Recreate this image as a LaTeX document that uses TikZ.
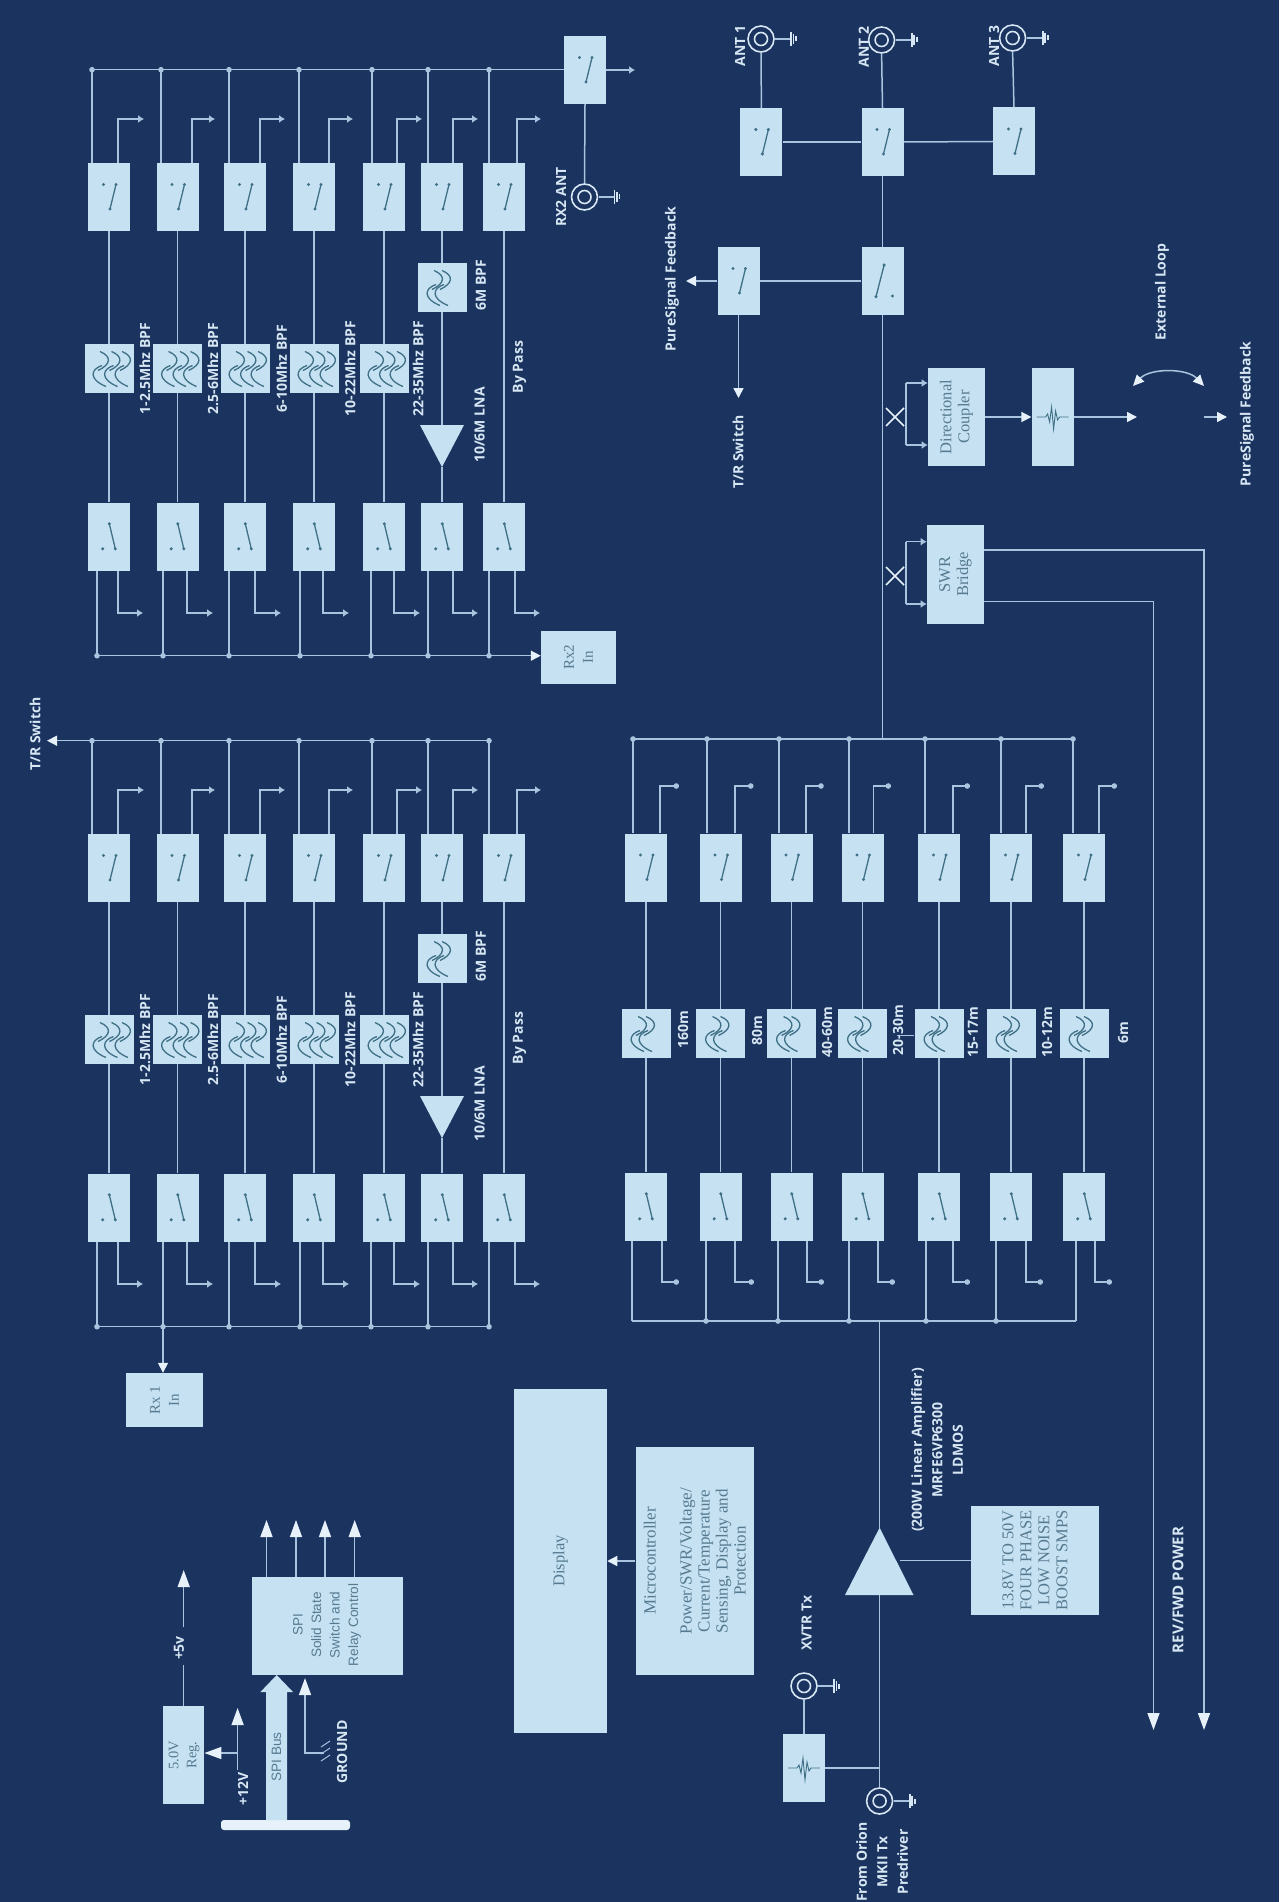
\documentclass[tikz,border=0pt]{standalone}
\usepackage{fontspec}
\setmainfont{Liberation Serif}
\newfontfamily\lblfont{Open Sans}
\newfontfamily\arialfont{Liberation Sans}
\usetikzlibrary{arrows.meta,calc}
\definecolor{bgc}{HTML}{1A335F}
\definecolor{boxc}{HTML}{C6E1F2}
\definecolor{boxtxt}{HTML}{567A90}
\definecolor{wirec}{HTML}{A9C4DE}
\definecolor{lblc}{HTML}{D6E6F3}
\definecolor{arrc}{HTML}{E6F1FA}
\definecolor{symc}{HTML}{3F7086}
\tikzset{
  x=1pt,y=-1pt,
  wire/.style={draw=wirec,line width=1.5pt},
  bigtip/.style={-{Triangle[length=17pt,width=12pt,color=arrc]}},
  medtip/.style={-{Triangle[length=10pt,width=10pt,color=arrc]}},
  smalltip/.style={-{Latex[length=6pt,width=8pt,color=wirec]}},
  dottip/.style={-{Circle[length=5.5pt,color=wirec]}},
  junc/.style={fill=wirec},
  solidbox/.style={fill=boxc,draw=none,inner sep=0pt,rectangle},
  swbox/.style={solidbox,minimum width=42pt,minimum height=68pt},
  filtbox/.style={solidbox,minimum width=49pt,minimum height=49pt},
  symline/.style={draw=symc,line width=1.3pt},
  lbl/.style={rotate=90,text=lblc,inner sep=0pt,align=center,font=\lblfont\bfseries\fontsize{14}{20.5}\selectfont},
  btxt/.style={rotate=90,text=boxtxt,inner sep=0pt,align=center,font=\fontsize{16.5}{18}\selectfont},
  atxt/.style={rotate=90,text=boxtxt,inner sep=0pt,align=center,font=\arialfont\fontsize{13.6}{18.5}\selectfont},
  coaxo/.style={circle,draw=lblc,line width=1.6pt,minimum size=26pt,inner sep=0pt},
  coaxi/.style={circle,draw=lblc,line width=1.6pt,minimum size=13pt,inner sep=0pt},
}
\newcommand\swU[3]{\node[swbox] (#1) at (#2,#3) {};
  \begin{scope}[shift={(#2,#3)}]
    \fill[symc] (-5.5,-12.5) circle (1.7pt) (7,-12.5) circle (1.7pt) (1,12) circle (1.7pt);
    \draw[symline] (7,-12.5) -- (1,12);
  \end{scope}}
\newcommand\swD[3]{\node[swbox] (#1) at (#2,#3) {};
  \begin{scope}[shift={(#2,#3)}]
    \fill[symc] (-6.3,12.3) circle (1.7pt) (6.3,12.3) circle (1.7pt) (0.3,-12.7) circle (1.7pt);
    \draw[symline] (0.3,-12.7) -- (6.3,12.3);
  \end{scope}}
\newcommand\wavy[1]{\draw[symline] ({#1},-17) .. controls ({#1+12},-12) and ({#1+11},-4) .. ({#1-2},2)
   ({#1+2},-3) .. controls ({#1-10},1) and ({#1-11},11) .. ({#1+6},18);}
\newcommand\filtT[3]{\node[filtbox] (#1) at (#2,#3) {};
  \begin{scope}[shift={(#2,#3)}]\wavy{-9}\wavy{2.5}\wavy{13}\end{scope}}
\newcommand\filtD[3]{\node[filtbox] (#1) at (#2,#3) {};
  \begin{scope}[shift={(#2,#3)}]\wavy{-8}\wavy{0}\end{scope}}
\newcommand\attsym[2]{\begin{scope}[shift={(#1,#2)}]
  \draw[symline,line width=0.9pt] (-16,0) -- (-7,0) -- (-5,-3) -- (-3,5) -- (-1,-10) -- (1,12) -- (3,-6) -- (5,3) -- (7,0) -- (16,0);
  \end{scope}}
\newcommand\coax[3]{\node[coaxo] (#1) at (#2,#3) {};
  \node[coaxi] (#1i) at (#2,#3) {};
  \begin{scope}[shift={(#2,#3)}]
    \draw[wire,line width=1.8pt] (14,0) -- (30,0);
    \draw[draw=lblc,line width=1.8pt] (30,-7) -- (30,7) (32.5,-5) -- (32.5,5) (35,-2.5) -- (35,2.5);
  \end{scope}}
\newcommand\rxrow[3]{%
\begin{scope}[shift={(0,#2)}]
\foreach \i/\c/\a/\b/\e/\p/\q/\f in {1/109/92/118/144/97/118/143,2/177.5/161/192/215/163/187/213,3/245/229/260/285/229/255/281,4/314/299/329/353/300/323/349,5/384/372/397/422/371/394/420,6/442/428/453/478/428/453/478,7/504/489/517/541/489/515/540}{
  \swU{#1U\i}{\c}{197}
  \swD{#1D\i}{\c}{536.5}
  \coordinate (#1T\i) at (\a,69.7);
  \coordinate (#1B\i) at (\p,655.7);
  \fill[junc] (#1T\i) circle (2.8pt) (#1B\i) circle (2.8pt);
  \draw[wire] (#1T\i) -- (#1T\i |- #1U\i.north);
  \draw[wire] (#1B\i) -- (#1B\i |- #1D\i.south);
  \coordinate (#1O\i) at (\b,119);
  \coordinate (#1E\i) at (\e,119);
  \draw[wire,smalltip] (#1O\i |- #1U\i.north) -- (#1O\i) -- (#1E\i);
  \coordinate (#1P\i) at (\q,613);
  \coordinate (#1Q\i) at (\f,613);
  \draw[wire,smalltip] (#1P\i |- #1D\i.south) -- (#1P\i) -- (#1Q\i);
}
\draw[wire] (#1T1) -- (#1T7);
\draw[wire] (#1B1) -- (#1B7);
\foreach \i/\c/\lx/\t in {1/109/145/1-2.5Mhz BPF,2/177.5/213/2.5-6Mhz BPF,3/245/281.6/6-10Mhz BPF,4/314/350/10-22Mhz BPF,5/384/418/22-35Mhz BPF}{
  \filtT{#1F\i}{\c}{368.5}
  \draw[wire] (#1U\i.south) -- (#1F\i.north);
  \draw[wire] (#1F\i.south) -- (#1D\i.north);
  \node[lbl] (#1L\i) at (\lx,368.5) {\t};
}
\filtD{#1F6}{442}{287.5}
\coordinate (#1TriA) at (420,425);
\coordinate (#1TriB) at (464,425);
\coordinate (#1TriC) at (442,467);
\coordinate (#1TriM) at (442,425);
\fill[boxc] (#1TriA) -- (#1TriB) -- (#1TriC) -- cycle;
\draw[wire] (#1U6.south) -- (#1F6.north);
\draw[wire] (#1F6.south) -- (#1TriM);
\draw[wire] (#1TriC) -- (#1D6.north);
\draw[wire] (#1U7.south) -- (#1D7.north);
\node[lbl] (#1L6) at (481,285) {6M BPF};
\node[lbl] (#1LNA) at (479.6,#3) {10/6M LNA};
\node[lbl] (#1BP) at (519.6,367) {By Pass};
\end{scope}}
\begin{document}
\begin{tikzpicture}
\useasboundingbox (0,0) rectangle (1279,1902);
\fill[bgc] (0,0) rectangle (1279,1902);

% --- RX2 and RX1 filter banks
\rxrow{ra}{0}{425}
\rxrow{rb}{671}{433}

% RX2 input switch and antenna
\swU{rxTop}{585}{70}
\draw[wire] (raT7) -- (rxTop.west |- raT7);
\coordinate (rxOut) at (635,70);
\draw[wire,smalltip] (rxTop.east) -- (rxOut);
\coax{rxAnt}{584.5}{197}
\draw[wire] (rxTop.south) -- (rxAnt.north);
\node[lbl] (rxAntL) at (561,197) {RX2 ANT};
% RX2 In
\node[solidbox,minimum width=75pt,minimum height=53pt] (rxIn2) at (578.5,657) {};
\node[btxt,font=\fontsize{15}{19}\selectfont] (rxIn2T) at (rxIn2) {Rx2\\In};
\draw[wire,medtip] (raB7) -- (rxIn2.west |- raB7);
% T/R switch on RX1 bus
\coordinate (trTip) at (47,740.7);
\draw[wire,medtip] (rbT1) -- (trTip);
\node[lbl] (trL) at (35,734) {T/R Switch};
% RX1 In
\node[solidbox,minimum width=77pt,minimum height=54pt] (rxIn1) at (164.5,1400) {};
\node[btxt,font=\fontsize{15}{19}\selectfont] (rxIn1T) at (rxIn1) {Rx 1\\In};
\draw[wire,medtip] (rbB2) -- (rbB2 |- rxIn1.north);

% --- PA low-pass bank
\foreach \i/\c/\a/\b/\e/\p/\q/\f/\lx/\ly/\t in {1/646/633/660/679/632/662/679/683/1030/160m,2/720.5/707/735/753.5/706/735/754/757/1031/80m,3/791.5/779/806/823.7/778/807/824/827/1032/40-60m,4/862.5/849/873.5/891/849/878/895/898/1030/20-30m,5/939/925/953/970/926/953/970/973/1032/15-17m,6/1011/1001/1026/1044/996/1026/1043/1047/1032/10-12m,7/1084/1073/1099/1117/1076/1095/1112/1123/1033/6m}{
  \swU{pU\i}{\c}{867.5}
  \swD{pD\i}{\c}{1206.5}
  \filtD{pF\i}{\c}{1033.5}
  \draw[wire] (pU\i.south) -- (pF\i.north);
  \draw[wire] (pF\i.south) -- (pD\i.north);
  \coordinate (pT\i) at (\a,739);
  \coordinate (pB\i) at (\p,1321);
  \fill[junc] (pT\i) circle (2.8pt);
  \draw[wire] (pT\i) -- (pT\i |- pU\i.north);
  \draw[wire] (pB\i) -- (pB\i |- pD\i.south);
  \coordinate (pO\i) at (\b,786);
  \coordinate (pE\i) at (\e,786);
  \draw[wire,dottip] (pO\i |- pU\i.north) -- (pO\i) -- (pE\i);
  \coordinate (pP\i) at (\q,1282);
  \coordinate (pQ\i) at (\f,1282);
  \draw[wire,dottip] (pP\i |- pD\i.south) -- (pP\i) -- (pQ\i);
  \node[lbl] (pL\i) at (\lx,\ly) {\t};
}
\draw[wire] (pT1) -- (pT7);
\draw[wire] (pB1) -- (pB7);
\foreach \i in {2,3,4,5,6}{\fill[junc] (pB\i) circle (2.8pt);}
\coordinate (stub) at (897,1035);
\draw[wire,line width=1pt] (stub) -- (pF5.west |- stub);

% --- Amplifier
\coordinate (ampApex) at (879.6,1527.7);
\coordinate (ampL) at (845,1595);
\coordinate (ampR) at (913.5,1595);
\coordinate (ampB) at (879.6,1595);
\coordinate (ampIn) at (879.6,1321);
\fill[boxc] (ampApex) -- (ampL) -- (ampR) -- cycle;
\draw[wire] (ampIn) -- (ampApex);
\node[lbl] (ampLab) at (937,1450) {(200W Linear Amplifier)\\MRFE6VP6300\\LDMOS};
\node[solidbox,minimum width=127.4pt,minimum height=109.3pt] (smps) at (1035,1560.4) {};
\node[btxt] (smpsT) at (smps) {13.8V TO 50V\\FOUR PHASE\\LOW NOISE\\BOOST SMPS};
\coordinate (ampS) at (900,1560.7);
\draw[wire] (ampS) -- (smps.west |- ampS);
\coax{orion}{879.6}{1801}
\draw[wire] (ampB) -- (orion.north);
\node[lbl] (orionL) at (882,1862) {From Orion\\MKII Tx\\Predriver};
\node[swbox] (xvAtt) at (804,1768) {};
\attsym{804}{1768}
\coordinate (xvTap) at (879.6,1768);
\draw[wire] (xvAtt.east) -- (xvTap);
\coax{xvtr}{804}{1686}
\draw[wire] (xvAtt.north) -- (xvtr.south);
\node[lbl] (xvL) at (806.5,1623) {XVTR Tx};

% --- Antenna switching
\swU{ant1S}{761.4}{142}
\swU{ant2S}{882.5}{142}
\swU{ant3S}{1014}{141.5}
\coax{ant1}{761}{39}
\coax{ant2}{881.6}{40}
\coax{ant3}{1012.6}{38}
\draw[wire] (ant1S.north) -- (ant1.south);
\draw[wire] (ant2S.north) -- (ant2.south);
\draw[wire] (ant3S.north) -- (ant3.south);
\draw[wire] (ant1S.east) -- (ant2S.west);
\draw[wire] (ant2S.east) -- (ant3S.west);
\node[lbl] (ant1L) at (740,46) {ANT 1};
\node[lbl] (ant2L) at (863.7,47) {ANT 2};
\node[lbl] (ant3L) at (994,46) {ANT 3};

\node[swbox] (mainS) at (882.5,281) {};
\begin{scope}[shift={(882.5,281)}]
  \fill[symc] (1.6,-16) circle (1.7pt) (-6.5,15.7) circle (1.7pt) (10,15) circle (1.7pt);
  \draw[symline] (1.6,-16) -- (-6.5,15.7);
\end{scope}
\swU{psS}{738.5}{281}
\draw[wire] (ant2S.south) -- (mainS.north);
\draw[wire] (psS.east) -- (mainS.west);
\coordinate (psTip) at (686,281);
\draw[wire,medtip] (psS.west) -- (psTip);
\coordinate (trTip2) at (738.5,398);
\draw[wire,medtip] (psS.south) -- (trTip2);
\node[lbl] (psL) at (672,279) {PureSignal Feedback};
\node[lbl] (trL2) at (738,452) {T/R Switch};
\coordinate (mainBus) at (882.5,739);
\draw[wire] (mainS.south) -- (mainBus);

% --- Directional coupler
\node[solidbox,minimum width=57pt,minimum height=98pt] (dc) at (956.4,417) {};
\node[btxt] (dcT) at (dc) {Directional\\Coupler};
\node[solidbox,minimum width=42pt,minimum height=98pt] (att) at (1052.6,417) {};
\attsym{1052.6}{417}
\draw[wire,medtip] (dc.east) -- (att.west);
\coordinate (attTip) at (1137,417);
\draw[wire,medtip] (att.east) -- (attTip);
\coordinate (fbA) at (1204,417);
\coordinate (fbB) at (1227,417);
\draw[wire,medtip] (fbA) -- (fbB);
\coordinate (lpA) at (1133,386);
\coordinate (lpB) at (1204,386);
\draw[wire,{Triangle[length=11pt,width=10pt,color=arrc]}-{Triangle[length=11pt,width=10pt,color=arrc]}] (lpA) .. controls (1150,368) and (1187,368) .. (lpB);
\node[lbl] (extL) at (1162,292) {External Loop};
\node[lbl] (psL2) at (1247,414) {PureSignal Feedback};
\coordinate (dcA) at (906,383);
\coordinate (dcB) at (906,445);
\draw[wire] (dcA) -- (dcB);
\draw[wire,smalltip] (dcA) -- (dcA -| dc.west);
\draw[wire,smalltip] (dcB) -- (dcB -| dc.west);
\draw[draw=arrc,line width=1.7pt] (886,408) -- (904,426) (886,426) -- (904,408);

% --- SWR bridge
\node[solidbox,minimum width=57pt,minimum height=99pt] (swr) at (955.4,574.5) {};
\node[btxt] (swrT) at (swr) {SWR\\Bridge};
\coordinate (swA) at (906,541.7);
\coordinate (swB) at (906,604);
\draw[wire] (swA) -- (swB);
\draw[wire,smalltip] (swA) -- (swA -| swr.west);
\draw[wire,smalltip] (swB) -- (swB -| swr.west);
\draw[draw=arrc,line width=1.7pt] (886,567) -- (904,585) (886,585) -- (904,567);
\coordinate (rvC) at (1204,550);
\coordinate (rvT) at (1204,1730);
\coordinate (fwC) at (1153.5,601.7);
\coordinate (fwT) at (1153.5,1730);
\draw[wire,bigtip] (swr.east |- rvC) -- (rvC) -- (rvT);
\draw[wire,bigtip] (swr.east |- fwC) -- (fwC) -- (fwT);
\node[lbl,font=\lblfont\bfseries\fontsize{15}{20}\selectfont] (rvL) at (1178,1590) {REV/FWD POWER};

% --- Display and microcontroller
\node[solidbox,minimum width=93.5pt,minimum height=344pt] (disp) at (560.3,1561) {};
\node[btxt] (dispT) at (disp) {Display};
\node[solidbox,minimum width=118.5pt,minimum height=228pt] (mcu) at (694.8,1561) {};
\node[btxt,font=\fontsize{17}{18}\selectfont] (mcuT) at (mcu) {Microcontroller\\ \\Power/SWR/Voltage/\\Current/Temperature\\Sensing, Display and\\Protection};
\draw[wire,medtip] (mcu.west) -- (disp.east);

% --- SPI and power
\node[solidbox,minimum width=151pt,minimum height=98pt] (spi) at (327.5,1626) {};
\node[atxt] (spiT) at (327,1625) {SPI\\Solid State\\Switch and\\Relay Control};
\foreach \i/\x in {1/266.5,2/296,3/325,4/354.7}{
  \coordinate (spiO\i) at (\x,1520);
  \draw[wire,bigtip] (spiO\i |- spi.north) -- (spiO\i);
}
\node[solidbox,minimum width=41pt,minimum height=98pt] (reg) at (183.7,1755) {};
\node[btxt,font=\fontsize{14.5}{18}\selectfont] (regT) at (184,1755) {5.0V\\Reg.};
\coordinate (v5a) at (183.7,1665);
\coordinate (v5b) at (183.7,1627);
\coordinate (v5c) at (183.7,1570);
\draw[wire] (reg.north) -- (v5a);
\draw[wire,bigtip] (v5b) -- (v5c);
\node[lbl] (v5L) at (179,1648) {+5v};
\coordinate (v12a) at (237.6,1770);
\coordinate (v12b) at (237.6,1708);
\coordinate (v12c) at (237.6,1753);
\draw[wire,bigtip] (v12a) -- (v12b);
\draw[wire,bigtip] (v12c) -- (reg.east |- v12c);
\node[lbl] (v12L) at (243,1789) {+12V};
\node[solidbox,fill=arrc,rounded corners=3pt,minimum width=129pt,minimum height=10pt] (bar) at (285.5,1825) {};
\coordinate (spiAT) at (276.7,1675);
\fill[boxc] (spiAT) -- (293,1692) -- (287,1692) -- (287,1820) -- (266,1820) -- (266,1692) -- (260.4,1692) -- cycle;
\node[atxt] (spiB) at (276.5,1757) {SPI Bus};
\coordinate (gTip) at (305,1678);
\coordinate (gCor) at (305,1753);
\coordinate (gEnd) at (324,1753);
\draw[wire,bigtip] (gEnd) -- (gCor) -- (gTip);
\draw[wire,line width=1pt] (321,1747) -- (330,1741) (321,1754) -- (330,1748) (321,1761) -- (330,1755);
\node[lbl] (gL) at (342,1752) {GROUND};
\end{tikzpicture}
\end{document}
